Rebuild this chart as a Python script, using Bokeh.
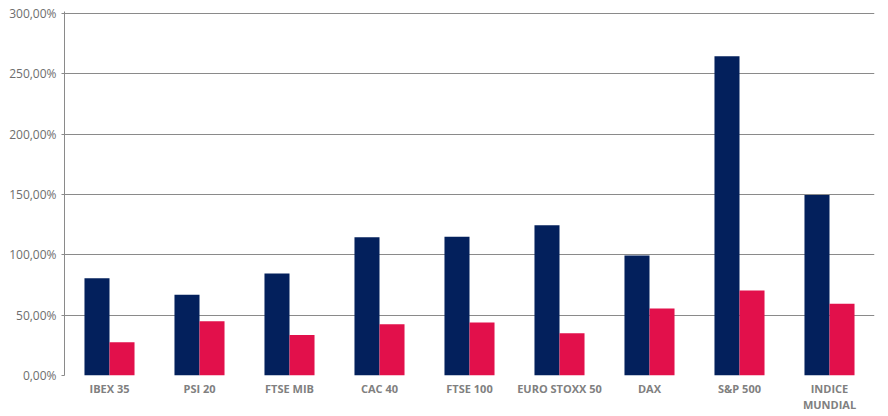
import numpy as np
from bokeh.plotting import figure
from bokeh.models import ColumnDataSource, FixedTicker, LinearAxis, Range1d
from bokeh.embed import file_html
from bokeh.resources import INLINE

categories = ["IBEX 35", "PSI 20", "FTSE MIB", "CAC 40", "FTSE 100",
              "EURO STOXX 50", "DAX", "S&P 500", "INDICE\nMUNDIAL"]
series_a = [80.5, 67.0, 84.5, 114.5, 115.0, 124.5, 99.5, 264.5, 149.5]
series_b = [27.5, 45.0, 33.5, 42.5, 44.0, 35.0, 55.5, 70.5, 59.5]
y_ticks = [0, 50, 100, 150, 200, 250, 300]

NAVY = "#03205C"
RED = "#E2104B"
GRID = "#8a8a8a"
TXT = "#6e6e6e"
FONT = "Open Sans"

idx = np.arange(len(categories))
bw = 0.278
src = ColumnDataSource(dict(
    xa=idx + 0.5 - bw / 2, xb=idx + 0.5 + bw / 2,
    a=series_a, b=series_b, cat=categories))

p = figure(frame_width=810, frame_height=364, output_backend="svg",
           toolbar_location=None, x_range=Range1d(0, 9), y_range=Range1d(0, 301.6),
           min_border_left=64, min_border_right=13, min_border_top=11,
           min_border_bottom=40, x_axis_type=None)
p.outline_line_color = None
p.background_fill_color = "white"

p.vbar(x="xa", top="a", width=bw, bottom=0, source=src, color=NAVY, line_color=None)
p.vbar(x="xb", top="b", width=bw, bottom=0, source=src, color=RED, line_color=None)

# y axis
ya = p.yaxis[0]
ya.ticker = FixedTicker(ticks=y_ticks)
ya.major_label_overrides = {v: f"{v:.2f}".replace(".", ",") + "%" for v in y_ticks}
ya.axis_line_color = GRID
ya.major_tick_line_color = GRID
ya.major_tick_out = 3
ya.major_tick_in = 0
ya.minor_tick_line_color = None
ya.major_label_standoff = 5
ya.major_label_text_font = FONT
ya.major_label_text_font_size = "12px"
ya.major_label_text_color = TXT

p.xgrid.visible = False
p.ygrid.ticker = FixedTicker(ticks=y_ticks[1:])
p.ygrid.grid_line_color = GRID
p.ygrid.grid_line_width = 1

# x axis: boundary ticks
xb = LinearAxis(ticker=FixedTicker(ticks=list(range(len(categories) + 1))))
xb.major_label_text_font_size = "0px"
xb.major_label_text_color = None
xb.axis_line_color = GRID
xb.major_tick_line_color = GRID
xb.major_tick_out = 5
xb.major_tick_in = 0
xb.minor_tick_line_color = None
p.add_layout(xb, "below")

# x labels at category centres
xl = p.xaxis[0]
xl.ticker = FixedTicker(ticks=list(idx + 0.5))
xl.major_label_overrides = {float(i + 0.5): c for i, c in enumerate(categories)}
xl.axis_line_color = None
xl.major_tick_line_color = None
xl.minor_tick_line_color = None
xl.major_label_standoff = 0
xl.major_label_text_font = FONT
xl.major_label_text_font_size = "11px"
xl.major_label_text_font_style = "bold"
xl.major_label_text_color = "#808080"
xl.major_label_text_line_height = 1.1

open("out.html", "w").write(file_html(p, INLINE))
